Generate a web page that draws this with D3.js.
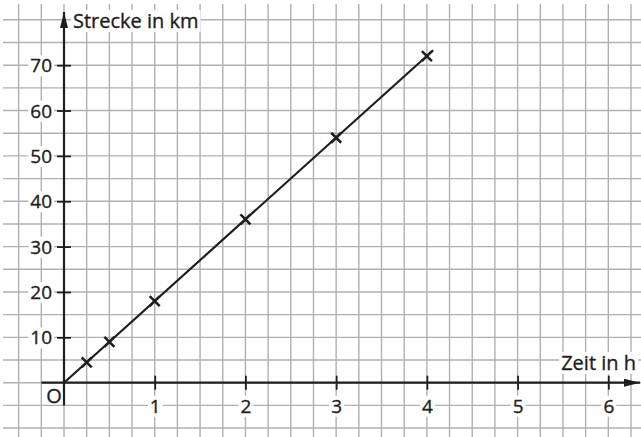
<!DOCTYPE html>
<html>
<head>
<meta charset="utf-8">
<script src="https://cdn.jsdelivr.net/npm/d3@7"></script>
<style>
  body { margin: 0; background: #fff; }
  svg { display: block; }
  text { font-family: "Open Sans", "Noto Sans", sans-serif; fill: #1e1e1e; stroke: #1e1e1e; stroke-width: 0.35px; }
</style>
</head>
<body>
<div id="chart"></div>
<script>
// Zeit (h) und Strecke (km)
var zeit = [0.25, 0.5, 1, 2, 3, 4];
var strecke = [4.5, 9, 18, 36, 54, 72];
var xTicks = [1, 2, 3, 4, 5, 6];
var yTicks = [10, 20, 30, 40, 50, 60, 70];
var lineEnd = [4.07, 73.3];

var width = 641, height = 437;
var cell = 22.68;
var x0 = 64, y0 = 382.7;
var ink = "#1e1e1e";

var x = d3.scaleLinear().domain([0, 6]).range([x0, x0 + 24 * cell]);
var y = d3.scaleLinear().domain([0, 70]).range([y0, y0 - 14 * cell]);

var svg = d3.select("#chart").append("svg")
  .attr("width", width)
  .attr("height", height);

// Kaestchenpapier
var grid = svg.append("g").attr("stroke", "#b0b0b0").attr("stroke-width", 1.4);
grid.selectAll("line.v")
  .data(d3.range(-0.5, 6.26, 0.25))
  .enter().append("line")
  .attr("x1", function(d) { return x(d); })
  .attr("x2", function(d) { return x(d); })
  .attr("y1", 4).attr("y2", height);
grid.selectAll("line.h")
  .data(d3.range(-10, 80.1, 5))
  .enter().append("line")
  .attr("y1", function(d) { return y(d); })
  .attr("y2", function(d) { return y(d); })
  .attr("x1", 3).attr("x2", width);

var defs = svg.append("defs");
defs.append("marker")
  .attr("id", "arrow")
  .attr("viewBox", "0 0 16 8")
  .attr("refX", 16).attr("refY", 4)
  .attr("markerWidth", 16).attr("markerHeight", 8)
  .attr("markerUnits", "userSpaceOnUse")
  .attr("orient", "auto")
  .append("path")
  .attr("d", "M0,0L16,4L0,8Z")
  .attr("fill", ink);

// weisser Kasten hinter Beschriftungen
function box(sel) {
  sel.each(function() {
    var b = this.getBBox();
    d3.select(this.parentNode).insert("rect", function() { return this.firstChild; }.bind(this.parentNode))
      .attr("x", b.x - 2).attr("y", b.y + 3)
      .attr("width", b.width + 4).attr("height", b.height - 5)
      .attr("fill", "#fff");
  });
}

// x-Achse
var xAxis = svg.append("g")
  .attr("transform", "translate(0," + y0 + ")")
  .call(d3.axisBottom(x).tickValues(xTicks).tickSize(7).tickFormat(d3.format("d")));
xAxis.select(".domain").remove();
xAxis.selectAll(".tick line").attr("y1", -7).attr("stroke", ink).attr("stroke-width", 1.8);
xAxis.selectAll(".tick text")
  .attr("y", 30).attr("dy", 0)
  .style("font-size", "19px")
  .call(box);

// y-Achse
var yAxis = svg.append("g")
  .attr("transform", "translate(" + x0 + ",0)")
  .call(d3.axisLeft(y).tickValues(yTicks).tickSize(7).tickFormat(d3.format("d")));
yAxis.select(".domain").remove();
yAxis.selectAll(".tick line").attr("x1", 7).attr("stroke", ink).attr("stroke-width", 1.8);
yAxis.selectAll(".tick text")
  .attr("x", -12).attr("dy", "0.35em")
  .style("font-size", "19px")
  .call(box);

svg.append("line")
  .attr("x1", x(-0.25)).attr("x2", width - 1)
  .attr("y1", y0).attr("y2", y0)
  .attr("stroke", ink).attr("stroke-width", 2.2)
  .attr("marker-end", "url(#arrow)");
svg.append("line")
  .attr("x1", x0).attr("x2", x0)
  .attr("y1", y(-5)).attr("y2", 12)
  .attr("stroke", ink).attr("stroke-width", 2.2)
  .attr("marker-end", "url(#arrow)");

var labels = svg.append("g");
labels.append("text")
  .attr("x", 73).attr("y", 28)
  .style("font-size", "20px")
  .text("Strecke in km");
labels.append("text")
  .attr("x", 636).attr("y", 370)
  .attr("text-anchor", "end")
  .style("font-size", "20px")
  .text("Zeit in h");
labels.selectAll("text").call(box);
svg.append("text")
  .attr("x", 54).attr("y", 403)
  .attr("text-anchor", "middle")
  .style("font-size", "20px")
  .text("O");

// Gerade durch den Ursprung
svg.append("line")
  .attr("x1", x(0)).attr("y1", y(0))
  .attr("x2", x(lineEnd[0])).attr("y2", y(lineEnd[1]))
  .attr("stroke", ink).attr("stroke-width", 2.2);

// Kreuze fuer die Messpunkte
var pts = zeit.map(function(d, i) { return [d, strecke[i]]; });
svg.append("g").selectAll("path")
  .data(pts)
  .enter().append("path")
  .attr("transform", function(d) { return "translate(" + x(d[0]) + "," + y(d[1]) + ")"; })
  .attr("d", "M-5,-5L5,5M-5,5L5,-5")
  .attr("stroke", ink).attr("stroke-width", 2.5);
</script>
</body>
</html>
